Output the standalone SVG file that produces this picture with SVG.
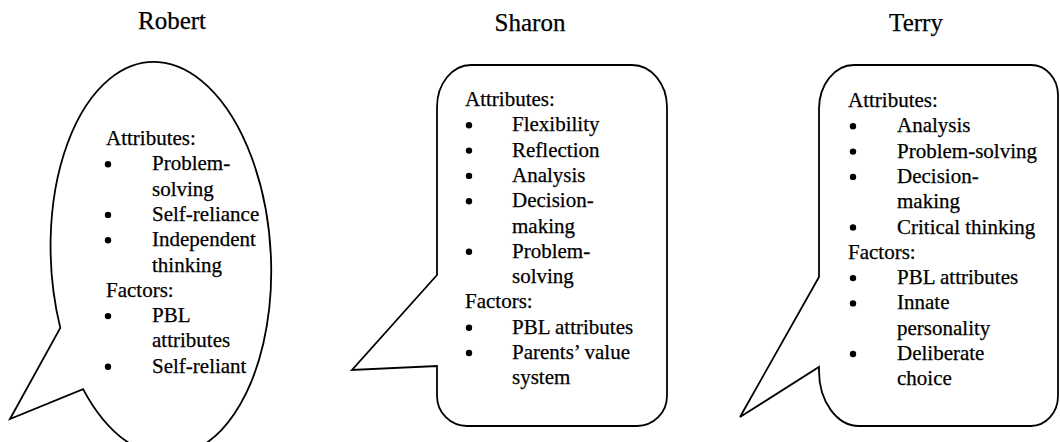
<svg xmlns="http://www.w3.org/2000/svg" width="1060" height="442" viewBox="0 0 1060 442">
<style>
.bubble{fill:#fff;stroke:#000;stroke-width:1.8;stroke-linejoin:miter}
.title{font-family:"Liberation Serif","Times New Roman",serif;font-size:25px;fill:#000;text-anchor:middle;stroke:#000;stroke-width:0.25}
.t{font-family:"Liberation Serif","Times New Roman",serif;font-size:21px;fill:#000;stroke:#000;stroke-width:0.25}
.b{fill:#000}
</style>
<rect width="1060" height="442" fill="#fff"/>
<g id="robert">
<text class="title" x="172" y="29">Robert</text>
<path class="bubble" d="M 60.3 327.9 L 10 419 L 83.1 389.1 A 110 197 -3 1 0 60.3 327.9 Z"/>
<text class="t" x="106" y="145">Attributes:</text>
<circle class="b" cx="108" cy="164.3" r="3.2"/><text class="t" x="152" y="170.3">Problem-</text>
<text class="t" x="152" y="195.6">solving</text>
<circle class="b" cx="108" cy="214.9" r="3.2"/><text class="t" x="152" y="220.9">Self-reliance</text>
<circle class="b" cx="108" cy="240.2" r="3.2"/><text class="t" x="152" y="246.2">Independent</text>
<text class="t" x="152" y="271.5">thinking</text>
<text class="t" x="106" y="296.8">Factors:</text>
<circle class="b" cx="108" cy="316.1" r="3.2"/><text class="t" x="152" y="322.1">PBL</text>
<text class="t" x="152" y="347.4">attributes</text>
<circle class="b" cx="108" cy="366.7" r="3.2"/><text class="t" x="152" y="372.7">Self-reliant</text>
</g>
<g id="sharon">
<text class="title" x="530" y="31">Sharon</text>
<path class="bubble" d="M 471 65 H 632 A 35 42 0 0 1 667 107 V 396 A 30 30 0 0 1 637 426 H 467 A 30 30 0 0 1 437 396 V 366 L 352 370 L 437 275 V 107 A 34 42 0 0 1 471 65 Z"/>
<text class="t" x="465" y="106">Attributes:</text>
<circle class="b" cx="469" cy="125.3" r="3.2"/><text class="t" x="512" y="131.3">Flexibility</text>
<circle class="b" cx="469" cy="150.6" r="3.2"/><text class="t" x="512" y="156.6">Reflection</text>
<circle class="b" cx="469" cy="175.9" r="3.2"/><text class="t" x="512" y="181.9">Analysis</text>
<circle class="b" cx="469" cy="201.2" r="3.2"/><text class="t" x="512" y="207.2">Decision-</text>
<text class="t" x="512" y="232.5">making</text>
<circle class="b" cx="469" cy="251.8" r="3.2"/><text class="t" x="512" y="257.8">Problem-</text>
<text class="t" x="512" y="283.1">solving</text>
<text class="t" x="465" y="308.4">Factors:</text>
<circle class="b" cx="469" cy="327.7" r="3.2"/><text class="t" x="512" y="333.7">PBL attributes</text>
<circle class="b" cx="469" cy="353" r="3.2"/><text class="t" x="512" y="359">Parents’ value</text>
<text class="t" x="512" y="384.3">system</text>
</g>
<g id="terry">
<text class="title" x="916" y="31">Terry</text>
<path class="bubble" d="M 854 65 H 1031 A 27 30 0 0 1 1058 95 V 396 A 27 30 0 0 1 1031 426 H 859 A 40 55 0 0 1 819 371 V 367 L 740 417 L 819 277 V 109 A 35 44 0 0 1 854 65 Z"/>
<text class="t" x="848" y="107">Attributes:</text>
<circle class="b" cx="853" cy="126.3" r="3.2"/><text class="t" x="897" y="132.3">Analysis</text>
<circle class="b" cx="853" cy="151.6" r="3.2"/><text class="t" x="897" y="157.6">Problem-solving</text>
<circle class="b" cx="853" cy="176.9" r="3.2"/><text class="t" x="897" y="182.9">Decision-</text>
<text class="t" x="897" y="208.2">making</text>
<circle class="b" cx="853" cy="227.5" r="3.2"/><text class="t" x="897" y="233.5">Critical thinking</text>
<text class="t" x="848" y="258.8">Factors:</text>
<circle class="b" cx="853" cy="278.1" r="3.2"/><text class="t" x="897" y="284.1">PBL attributes</text>
<circle class="b" cx="853" cy="303.4" r="3.2"/><text class="t" x="897" y="309.4">Innate</text>
<text class="t" x="897" y="334.7">personality</text>
<circle class="b" cx="853" cy="354" r="3.2"/><text class="t" x="897" y="360">Deliberate</text>
<text class="t" x="897" y="385.3">choice</text>
</g>
<g id="connectors"></g>
</svg>
